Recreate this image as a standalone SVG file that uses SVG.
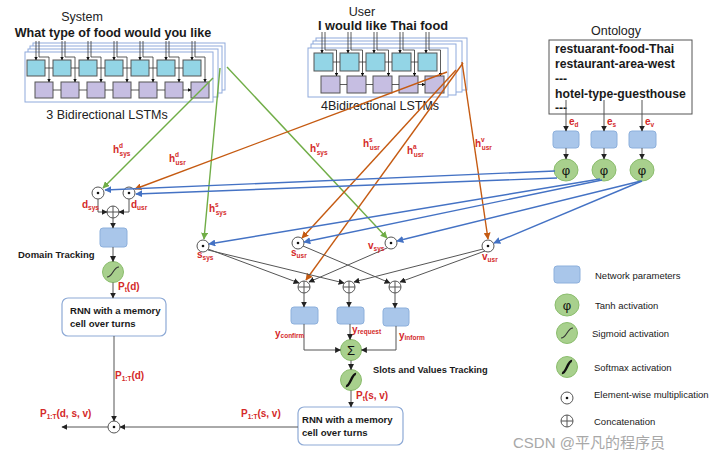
<svg xmlns="http://www.w3.org/2000/svg" width="720" height="462" viewBox="0 0 720 462">
<style>
text{font-family:"Liberation Sans",Arial,sans-serif}
.fr{fill:#fff;stroke:#8faadc;stroke-width:1}
.cy{fill:#93d5e6;stroke:#555;stroke-width:1}
.pu{fill:#c6bee2;stroke:#555;stroke-width:1}
.wl{fill:none;stroke:#333;stroke-width:0.8}
.nb{fill:#a9c6ea;stroke:#8db0dc;stroke-width:1}
.gc{fill:#a8d08d;stroke:#8bbd6d;stroke-width:1}
.op{fill:#fff;stroke:#555;stroke-width:1}
.lb{fill:#d42a2a;font-weight:bold;font-size:10px}
.s{font-size:6.5px}
.bk{fill:#1a1a1a;font-weight:bold}
.lg{font-size:9.5px;fill:#1a1a1a}
.g{stroke:#70ad47;stroke-width:1.4;fill:none}
.o{stroke:#c55a11;stroke-width:1.4;fill:none}
.b{stroke:#4472c4;stroke-width:1.4;fill:none}
.k{stroke:#555;stroke-width:1;fill:none}
.rb{fill:#fff;stroke:#8eaad6;stroke-width:1.2}
</style>
<defs>
<marker id="ak" viewBox="0 0 10 10" refX="9" refY="5" markerWidth="6" markerHeight="6" markerUnits="userSpaceOnUse" orient="auto"><path d="M0,0L10,5L0,10z" fill="#222"/></marker>
<marker id="as" viewBox="0 0 10 10" refX="9" refY="5" markerWidth="3.5" markerHeight="3.5" markerUnits="userSpaceOnUse" orient="auto"><path d="M0,0L10,5L0,10z" fill="#111"/></marker>
<marker id="ag" viewBox="0 0 10 10" refX="9" refY="5" markerWidth="7" markerHeight="7" markerUnits="userSpaceOnUse" orient="auto"><path d="M0,0L10,5L0,10z" fill="#70ad47"/></marker>
<marker id="ao" viewBox="0 0 10 10" refX="9" refY="5" markerWidth="7" markerHeight="7" markerUnits="userSpaceOnUse" orient="auto"><path d="M0,0L10,5L0,10z" fill="#c55a11"/></marker>
<marker id="ab" viewBox="0 0 10 10" refX="9" refY="5" markerWidth="7" markerHeight="7" markerUnits="userSpaceOnUse" orient="auto"><path d="M0,0L10,5L0,10z" fill="#4472c4"/></marker>
<g id="dot"><circle r="6" class="op"/><circle r="1.3" fill="#111"/></g>
<g id="plus"><circle r="6" class="op"/><path d="M-6,0H6M0,-6V6" stroke="#555" stroke-width="1"/></g>
<g id="sig"><circle r="10.5" class="gc"/><path d="M-6,5C0,5 0,-5 6,-5" fill="none" stroke="#333" stroke-width="1.1"/></g>
<g id="soft"><circle r="10.5" class="gc"/><path d="M-5,6C-1,7 1,-7 5,-6" fill="none" stroke="#111" stroke-width="2.4"/></g>
<g id="tanh"><ellipse rx="12" ry="11" class="gc"/><text y="4.5" text-anchor="middle" font-size="13" fill="#111">φ</text></g>
<g id="su"><rect x="0" y="60" width="18" height="16" class="cy"/><rect x="8" y="82" width="18" height="16" class="pu"/><path d="M12,41V57H22V82" class="wl" marker-end="url(#as)"/><path d="M9,41V60" class="wl" marker-end="url(#as)"/></g>
<g id="uu"><rect x="0" y="53" width="19" height="18" class="cy"/><rect x="7" y="76" width="19" height="17" class="pu"/><path d="M11,32V50H22.5V76" class="wl" marker-end="url(#as)"/><path d="M8,32V53" class="wl" marker-end="url(#as)"/></g>
</defs>
<rect width="720" height="462" fill="#fff"/>

<g id="system-lstm">
<text x="82" y="21" text-anchor="middle" font-size="12.5" fill="#222">System</text>
<text x="113" y="37" text-anchor="middle" font-size="12.6" class="bk">What type of food would you like</text>
<rect x="33" y="43" width="192" height="47" class="fr"/>
<rect x="30" y="46" width="192" height="47" class="fr"/>
<rect x="28" y="49" width="190" height="48" class="fr"/>
<rect x="25" y="52" width="188" height="50" class="fr"/>
<use href="#su" x="27"/><use href="#su" x="53"/><use href="#su" x="79"/><use href="#su" x="105"/><use href="#su" x="131"/><use href="#su" x="157"/><use href="#su" x="183"/>
<path class="wl" marker-end="url(#as)" d="M45,68h8M71,68h8M97,68h8M123,68h8M149,68h8M175,68h8M53,90h8M79,90h8M105,90h8M131,90h8M157,90h8M183,90h8"/>
<text x="107" y="119" text-anchor="middle" font-size="12.5" fill="#222">3 Bidirectional LSTMs</text>
</g>

<g id="user-lstm">
<text x="362" y="16" text-anchor="middle" font-size="12.5" fill="#222">User</text>
<text x="383" y="30" text-anchor="middle" font-size="12.8" class="bk">I would like Thai food</text>
<rect x="316" y="38" width="151" height="52" class="fr"/>
<rect x="313" y="41" width="149" height="51" class="fr"/>
<rect x="311" y="44" width="145" height="51" class="fr"/>
<rect x="308" y="48" width="140" height="49" class="fr"/>
<use href="#uu" x="314"/><use href="#uu" x="340"/><use href="#uu" x="366"/><use href="#uu" x="392"/><use href="#uu" x="418"/>
<path class="wl" marker-end="url(#as)" d="M333,62h7M359,62h7M385,62h7M411,62h7M340,84.5h7M366,84.5h7M392,84.5h7M418,84.5h7"/>
<text x="380" y="110" text-anchor="middle" font-size="12.5" fill="#222">4Bidirectional LSTMs</text>
</g>

<g id="ontology">
<text x="616" y="35" text-anchor="middle" font-size="12.5" fill="#222">Ontology</text>
<rect x="549" y="40" width="143" height="74" fill="#fff" stroke="#555" stroke-width="1"/>
<g class="bk" font-size="12.2">
<text x="555" y="53">restuarant-food-Thai</text>
<text x="555" y="68">restaurant-area-west</text>
<text x="555" y="83">---</text>
<text x="555" y="98">hotel-type-guesthouse</text>
<text x="555" y="112">---</text>
</g>
</g>

<g id="embeddings">
<rect x="553" y="131" width="26" height="17" rx="3" class="nb"/>
<rect x="591" y="131" width="26" height="17" rx="3" class="nb"/>
<rect x="629" y="131" width="27" height="17" rx="3" class="nb"/>
<text x="569" y="125" class="lb" font-size="12">e<tspan class="s" dy="2">d</tspan></text>
<text x="607" y="125" class="lb" font-size="12">e<tspan class="s" dy="2">s</tspan></text>
<text x="645" y="125" class="lb" font-size="12">e<tspan class="s" dy="2">v</tspan></text>
<use href="#tanh" x="566" y="170"/>
<use href="#tanh" x="604" y="170"/>
<use href="#tanh" x="642" y="170"/>
</g>

<g id="domain-tracking">
<use href="#dot" x="98" y="193"/>
<use href="#dot" x="129" y="193"/>
<use href="#plus" x="113" y="212"/>
<rect x="100" y="228" width="27" height="19" rx="3" class="nb"/>
<use href="#sig" x="113" y="272"/>
<rect x="62" y="298" width="104" height="38" rx="6" class="rb"/>
<text x="70" y="314" class="bk" font-size="9.6">RNN with a memory</text>
<text x="70" y="327" class="bk" font-size="9.6">cell over turns</text>
<text x="18" y="258" class="bk" font-size="9.5">Domain Tracking</text>
<use href="#dot" x="114" y="427"/>
</g>

<g id="slot-value-tracking">
<use href="#dot" x="203" y="246"/>
<use href="#dot" x="298" y="243"/>
<use href="#dot" x="391" y="243"/>
<use href="#dot" x="488" y="246"/>
<use href="#plus" x="304" y="287"/>
<use href="#plus" x="349" y="287"/>
<use href="#plus" x="395" y="287"/>
<rect x="291" y="307" width="27" height="17" rx="3" class="nb"/>
<rect x="337" y="307" width="27" height="17" rx="3" class="nb"/>
<rect x="383" y="308" width="26" height="18" rx="3" class="nb"/>
<circle cx="351" cy="350" r="10.5" class="gc"/>
<text x="351" y="355" text-anchor="middle" font-size="13" fill="#111">Σ</text>
<use href="#soft" x="351" y="380"/>
<text x="373" y="373" class="bk" font-size="9.3">Slots and Values Tracking</text>
<rect x="298" y="407" width="105" height="38" rx="6" class="rb"/>
<text x="302" y="423" class="bk" font-size="9.6">RNN with a memory</text>
<text x="302" y="436" class="bk" font-size="9.6">cell over turns</text>
</g>

<g id="connectors">
<path class="g" marker-end="url(#ag)" d="M213,78L103,188"/>
<path class="g" marker-end="url(#ag)" d="M220,68L204,239"/>
<path class="g" marker-end="url(#ag)" d="M227,67L387,238"/>
<path class="o" marker-end="url(#ao)" d="M447,72L135,189"/>
<path class="o" marker-end="url(#ao)" d="M456,70L302,238"/>
<path class="o" marker-end="url(#ao)" d="M463,63L306,280"/>
<path class="o" marker-end="url(#ao)" d="M462,62L488,239"/>
<path class="b" marker-end="url(#ab)" d="M555,171L105,190"/>
<path class="b" marker-end="url(#ab)" d="M557,178L136,194"/>
<path class="b" marker-end="url(#ab)" d="M600,179L209,244"/>
<path class="b" marker-end="url(#ab)" d="M602,180L304,242"/>
<path class="b" marker-end="url(#ab)" d="M641,181L397,241"/>
<path class="b" marker-end="url(#ab)" d="M642,181L494,243"/>
<g class="k" marker-end="url(#ak)">
<path d="M208,249L299,283"/>
<path d="M208,250L344,283"/>
<path d="M303,246L390,283"/>
<path d="M387,248L309,282"/>
<path d="M483,249L354,282"/>
<path d="M485,251L400,282"/>
<path d="M566,100V131"/><path d="M604,100V131"/><path d="M642,100V131"/>
<path d="M566,148V159"/><path d="M604,148V159"/><path d="M642,148V159"/>
<path d="M98,199V212H107"/>
<path d="M129,199V212H119"/>
<path d="M113,218V228"/>
<path d="M113,247V261.5"/>
<path d="M113,282.5V298"/>
<path d="M114,336V421"/>
<path d="M298,427H120"/>
<path d="M108,427H62"/>
<path d="M304,293V307"/>
<path d="M349,293V307"/>
<path d="M395,293V308"/>
<path d="M304,324V350H340.5"/>
<path d="M350,324V339.5"/>
<path d="M396,326V350H361.5"/>
<path d="M351,360.5V369.5"/>
<path d="M351,390.5V407"/>
</g>
</g>

<g id="labels">
<text x="113" y="153" class="lb">h<tspan class="s" dy="-5">d</tspan><tspan class="s" dx="-3.5" dy="8">sys</tspan></text>
<text x="169" y="162" class="lb">h<tspan class="s" dy="-5">d</tspan><tspan class="s" dx="-3.5" dy="8">usr</tspan></text>
<text x="209" y="212" class="lb">h<tspan class="s" dy="-5">s</tspan><tspan class="s" dx="-3" dy="8">sys</tspan></text>
<text x="310" y="152" class="lb">h<tspan class="s" dy="-5">v</tspan><tspan class="s" dx="-3" dy="8">sys</tspan></text>
<text x="363" y="147" class="lb">h<tspan class="s" dy="-5">s</tspan><tspan class="s" dx="-3" dy="8">usr</tspan></text>
<text x="407" y="154" class="lb">h<tspan class="s" dy="-5">a</tspan><tspan class="s" dx="-3" dy="8">usr</tspan></text>
<text x="475" y="147" class="lb">h<tspan class="s" dy="-5">v</tspan><tspan class="s" dx="-3" dy="8">usr</tspan></text>
<text x="82" y="208" class="lb">d<tspan class="s" dy="2">sys</tspan></text>
<text x="131" y="208" class="lb">d<tspan class="s" dy="2">usr</tspan></text>
<text x="197" y="258" class="lb">s<tspan class="s" dy="2">sys</tspan></text>
<text x="291" y="256" class="lb">s<tspan class="s" dy="2">usr</tspan></text>
<text x="368" y="249" class="lb">v<tspan class="s" dy="2">sys</tspan></text>
<text x="482" y="260" class="lb">v<tspan class="s" dy="2">usr</tspan></text>
<text x="275" y="337" class="lb">y<tspan class="s" dy="1">confirm</tspan></text>
<text x="352" y="333" class="lb">y<tspan class="s" dy="1">request</tspan></text>
<text x="399" y="339" class="lb">y<tspan class="s" dy="1">inform</tspan></text>
<text x="118" y="290" class="lb">P<tspan class="s" dy="2">t</tspan><tspan dy="-2">(d)</tspan></text>
<text x="115" y="379" class="lb">P<tspan class="s" dy="2">1:T</tspan><tspan dy="-2">(d)</tspan></text>
<text x="40" y="417" class="lb">P<tspan class="s" dy="2">1:T</tspan><tspan dy="-2">(d, s, v)</tspan></text>
<text x="241" y="417" class="lb">P<tspan class="s" dy="2">1:T</tspan><tspan dy="-2">(s, v)</tspan></text>
<text x="356" y="399" class="lb">P<tspan class="s" dy="2">t</tspan><tspan dy="-2">(s, v)</tspan></text>
</g>

<g id="legend">
<rect x="554" y="266" width="26" height="17" rx="3" class="nb"/>
<text x="595" y="279" class="lg">Network parameters</text>
<use href="#tanh" x="567" y="305"/>
<text x="595" y="309" class="lg">Tanh activation</text>
<use href="#sig" x="567" y="333"/>
<text x="592" y="337" class="lg">Sigmoid activation</text>
<use href="#soft" x="567" y="367"/>
<text x="594" y="371" class="lg">Softmax activation</text>
<use href="#dot" x="567" y="398"/>
<text x="594" y="398" class="lg">Element-wise multiplication</text>
<use href="#plus" x="567" y="421"/>
<text x="594" y="425" class="lg">Concatenation</text>
</g>

<text x="513" y="448" font-size="15" fill="#a8a8a8" style="font-family:'Liberation Sans','Noto Sans CJK SC',sans-serif">CSDN @平凡的程序员</text>
</svg>
